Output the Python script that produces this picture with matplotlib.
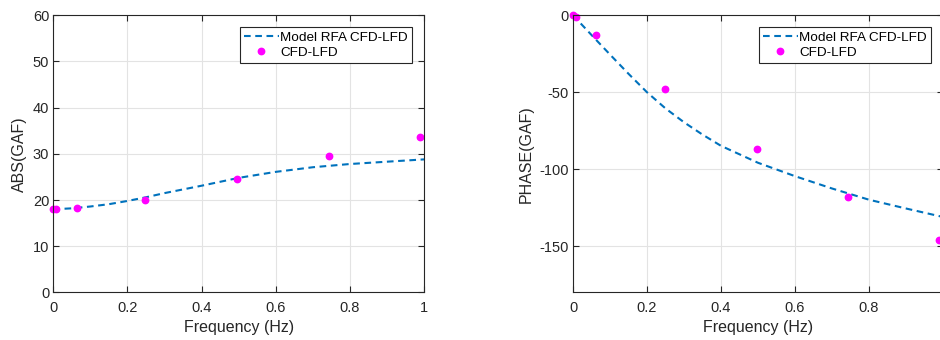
import matplotlib
matplotlib.use("Agg")
import matplotlib.pyplot as plt

plt.rcParams["font.family"] = ["Liberation Sans", "DejaVu Sans"]
plt.rcParams["axes.unicode_minus"] = False   # plain hyphen, like the MATLAB export

# ── data ──────────────────────────────────────────────────────────────────────
freq_model = [0.0, 0.05, 0.1, 0.15, 0.2, 0.25, 0.3, 0.35, 0.4, 0.5, 0.6, 0.7, 0.8, 0.9, 1.0]
abs_model = [18.0, 18.2, 18.6, 19.1, 19.8, 20.6, 21.5, 22.3, 23.1, 24.8, 26.1, 27.1, 27.8, 28.3, 28.8]
phase_model = [0.0, -12.8, -25.5, -38.0, -50.0, -60.5, -69.5, -77.5, -84.8,
               -95.8, -104.5, -112.5, -119.8, -125.5, -131.0]

freq_cfd = [0.0, 0.008, 0.063, 0.248, 0.496, 0.743, 0.990]
abs_cfd = [18.1, 18.1, 18.3, 20.1, 24.6, 29.6, 33.7]
phase_cfd = [0.0, -1.3, -12.6, -47.7, -86.7, -118.3, -146.1]

model_label = "Model RFA CFD-LFD"
cfd_label = "CFD-LFD"
xtick_vals = [0, 0.2, 0.4, 0.6, 0.8, 1]
xtick_text = ["0", "0.2", "0.4", "0.6", "0.8", "1"]

fig = plt.figure(figsize=(9.4, 3.4), dpi=100)
ax1 = fig.add_axes([0.0567, 0.140, 0.3944, 0.815])
# right panel runs a little past the figure edge, as in the original export
ax2 = fig.add_axes([0.6096, 0.140, 0.3936, 0.815])


def style(ax, yvals_model, yvals_cfd, ylim, yticks, ylabel, xlabels):
    ax.plot(freq_model, yvals_model, linestyle=(0, (3.2, 2.2)), color="#0072BD",
            linewidth=1.5, label=model_label)
    ax.plot(freq_cfd, yvals_cfd, linestyle="none", marker="o", markersize=4.6,
            color="#FF00FF", label=cfd_label, clip_on=False)
    ax.set_xlim(0, 1)
    ax.set_ylim(*ylim)
    ax.set_yticks(yticks)
    ax.set_xticks(xtick_vals)
    ax.set_xticklabels(xlabels)
    ax.grid(True, color="#E3E3E3", linewidth=0.8)
    ax.set_axisbelow(True)
    ax.tick_params(direction="in", top=True, right=True, labelsize=10.5,
                   colors="#262626", length=4, width=0.8)
    ax.tick_params(axis="y", pad=3)
    ax.tick_params(axis="x", pad=6)
    for s in ax.spines.values():
        s.set_color("#262626")
        s.set_linewidth(0.8)
    ax.set_xlabel("Frequency (Hz)", fontsize=11.5, color="#262626", labelpad=4)
    ax.set_ylabel(ylabel, fontsize=11.5, color="#262626", labelpad=4)
    leg = ax.legend(loc="upper right", fontsize=9.7, fancybox=False, framealpha=1,
                    edgecolor="#262626", borderpad=0.3, handlelength=2.6,
                    handletextpad=0.1, labelspacing=0.2, borderaxespad=0.9)
    leg.get_frame().set_linewidth(0.8)


style(ax1, abs_model, abs_cfd, (0, 60), [0, 10, 20, 30, 40, 50, 60], "ABS(GAF)", xtick_text)
# the "1" label of the right panel falls outside the exported image
style(ax2, phase_model, phase_cfd, (-180, 0), [-150, -100, -50, 0], "PHASE(GAF)",
      xtick_text[:-1] + [""])

fig.savefig("out.png", dpi=100)
